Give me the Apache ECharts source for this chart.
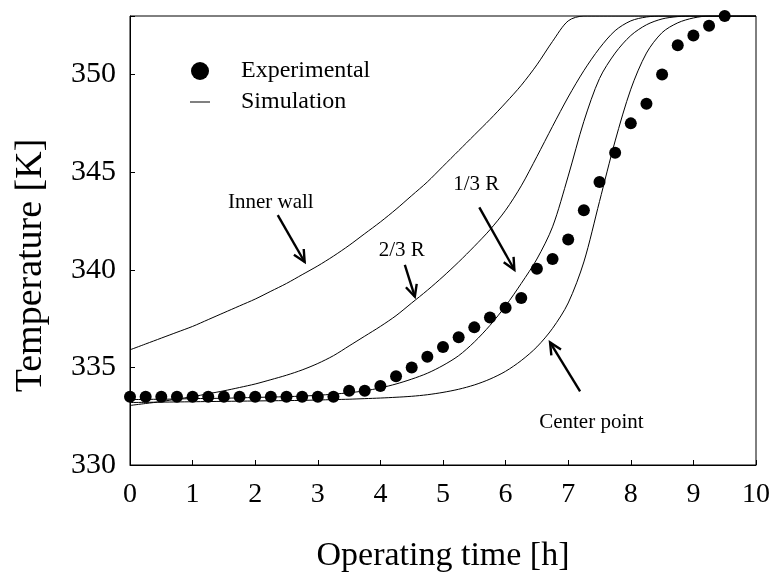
<!DOCTYPE html>
<html><head><meta charset="utf-8">
<script src="https://cdn.jsdelivr.net/npm/echarts/dist/echarts.min.js"></script>
<style>html,body{margin:0;padding:0;background:#fff}#c{width:773px;height:581px}</style>
</head><body><div id="c"></div>
<script>
// ---- data ----
const xTicks = [0,1,2,3,4,5,6,7,8,9,10];
const yTicks = [330,335,340,345,350];

const expX = [0,0.25,0.5,0.75,1,1.25,1.5,1.75,2,2.25,2.5,2.75,3,3.25,3.5,3.75,4,4.25,4.5,4.75,5,5.25,5.5,5.75,6,6.25,6.5,6.75,7,7.25,7.5,7.75,8,8.25,8.5,8.75,9,9.25,9.5];
const expY = [333.5,333.5,333.5,333.5,333.5,333.5,333.5,333.5,333.5,333.5,333.5,333.5,333.5,333.5,333.8,333.8,334.05,334.55,335.0,335.55,336.05,336.55,337.05,337.55,338.05,338.55,340.05,340.55,341.55,343.05,344.5,346.0,347.5,348.5,350.0,351.5,352.0,352.5,353.0];

// simulation curves, sampled every 0.25 h
const simX = [0,0.25,0.5,0.75,1,1.25,1.5,1.75,2,2.25,2.5,2.75,3,3.25,3.5,3.75,4,4.25,4.5,4.75,5,5.25,5.5,5.75,6,6.25,6.5,6.75,7,7.25,7.5,7.75,8,8.25,8.5,8.75,9,9.25,9.5,9.75,10];
const innerY = [335.9,336.2,336.5,336.8,337.1,337.45,337.8,338.15,338.5,338.9,339.3,339.75,340.2,340.7,341.25,341.85,342.45,343.1,343.8,344.5,345.3,346.1,346.9,347.7,348.55,349.45,350.5,351.7,352.75,353,353,353,353,353,353,353,353,353,353,353,353];
const twoThirdY = [333.05,333.15,333.25,333.38,333.5,333.65,333.8,333.97,334.15,334.37,334.6,334.87,335.2,335.6,336.1,336.6,337.1,337.65,338.3,338.95,339.65,340.4,341.2,342.05,343.05,344.3,345.8,347.35,348.85,350.2,351.35,352.25,352.75,352.95,353,353,353,353,353,353,353];
const oneThirdY = [333.35,333.36,333.37,333.38,333.4,333.41,333.42,333.44,333.46,333.48,333.5,333.53,333.57,333.63,333.7,333.8,333.95,334.15,334.4,334.7,335.1,335.6,336.3,337.15,338.15,339.3,340.55,342.2,344.8,347.6,349.8,351.1,352.0,352.55,352.85,352.97,353,353,353,353,353];
const centerY = [333.2,333.21,333.22,333.23,333.24,333.25,333.26,333.27,333.28,333.29,333.3,333.31,333.33,333.35,333.37,333.4,333.43,333.47,333.52,333.6,333.72,333.88,334.1,334.4,334.8,335.35,336.05,337.0,338.3,340.4,343.5,346.6,349.25,351.1,352.15,352.65,352.9,353,353,353,353];

// annotations: label text, label position (data), arrow tail (data), arrow tip (data)
const annoText = ['Inner wall','2/3 R','1/3 R','Center point'];
const annoPos  = [[2.25,343.45],[4.34,341.0],[5.53,344.35],[7.37,332.2]];
const arrowFrom = [[2.36,342.8],[4.39,340.25],[5.58,343.2],[7.19,333.77]];
const arrowTo   = [[2.79,340.4],[4.55,338.62],[6.14,340.0],[6.71,336.28]];

// ---- chart ----
const FONT = '"Liberation Serif", "Times New Roman", serif';
const zip = (a,b) => a.map((v,i)=>[v,b[i]]);
const chart = echarts.init(document.getElementById('c'));
const lineSeries = (d) => ({
  type:'line', name:'Simulation', data:d, symbol:'none', showSymbol:false, smooth:0.3,
  lineStyle:{color:'#000', width:1}, itemStyle:{color:'#000'}, z:2, silent:true
});
chart.setOption({
  animation:false,
  backgroundColor:'#fff',
  grid:{left:130, right:17, top:16, bottom:116, show:true, borderColor:'#000', borderWidth:1, backgroundColor:'transparent'},
  xAxis:{type:'value', min:xTicks[0], max:xTicks[xTicks.length-1], interval:1,
    name:'Operating time [h]', nameLocation:'middle', nameGap:74,
    nameTextStyle:{fontFamily:FONT, fontSize:34, color:'#000'},
    axisLine:{show:true, lineStyle:{color:'#000', width:1}},
    axisTick:{show:true, inside:true, length:5, lineStyle:{color:'#000'}},
    axisLabel:{fontFamily:FONT, fontSize:28, color:'#000', margin:16},
    splitLine:{show:false}},
  yAxis:{type:'value', min:yTicks[0], max:353, interval:5,
    name:'Temperature [K]', nameLocation:'middle', nameGap:80,
    nameTextStyle:{fontFamily:FONT, fontSize:38, color:'#000', padding:[0,50,0,0]},
    axisLine:{show:true, lineStyle:{color:'#000', width:1}},
    axisTick:{show:true, inside:true, length:5, lineStyle:{color:'#000'}},
    axisLabel:{fontFamily:FONT, fontSize:30, color:'#000', margin:14,
      formatter:v => (yTicks.indexOf(v) >= 0 ? String(v) : '')},
    splitLine:{show:false}},
  legend:{orient:'vertical', left:190, top:59, padding:0, itemWidth:20, itemHeight:18, itemGap:7,
    textStyle:{fontFamily:FONT, fontSize:24, color:'#000', padding:[0,0,0,26]},
    selectedMode:false,
    data:[{name:'Experimental', icon:'circle', itemStyle:{color:'#000', opacity:1}},
          {name:'Simulation', icon:'path://M0,0 L20,0 L20,1 L0,1 Z', itemStyle:{color:'#000', opacity:1}}]},
  series:[
    lineSeries(zip(simX, innerY)),
    lineSeries(zip(simX, twoThirdY)),
    lineSeries(zip(simX, oneThirdY)),
    lineSeries(zip(simX, centerY)),
    {type:'scatter', name:'Experimental', data:zip(expX, expY), symbol:'circle', symbolSize:12,
     itemStyle:{color:'#000', opacity:1}, z:3, silent:true}
  ]
});

// annotations positioned through the chart's own scales
const g = [];
annoText.forEach((t,i)=>{
  const p = chart.convertToPixel({gridIndex:0}, annoPos[i]);
  g.push({type:'text', z:10, style:{text:t, x:p[0], y:p[1], fill:'#000', font:'21px ' + FONT, align:'center', verticalAlign:'middle'}});
  const a = chart.convertToPixel({gridIndex:0}, arrowFrom[i]);
  const b = chart.convertToPixel({gridIndex:0}, arrowTo[i]);
  g.push({type:'line', z:10, shape:{x1:a[0], y1:a[1], x2:b[0], y2:b[1]}, style:{stroke:'#000', lineWidth:2.4}});
  const ang = Math.atan2(b[1]-a[1], b[0]-a[0]);
  const L = 13, w = 0.45;
  const p1 = [b[0]-L*Math.cos(ang-w), b[1]-L*Math.sin(ang-w)];
  const p2 = [b[0]-L*Math.cos(ang+w), b[1]-L*Math.sin(ang+w)];
  g.push({type:'polyline', z:10, shape:{points:[p1,b,p2]}, style:{stroke:'#000', lineWidth:2.4, fill:null}});
});
chart.setOption({graphic:g});
</script></body></html>
